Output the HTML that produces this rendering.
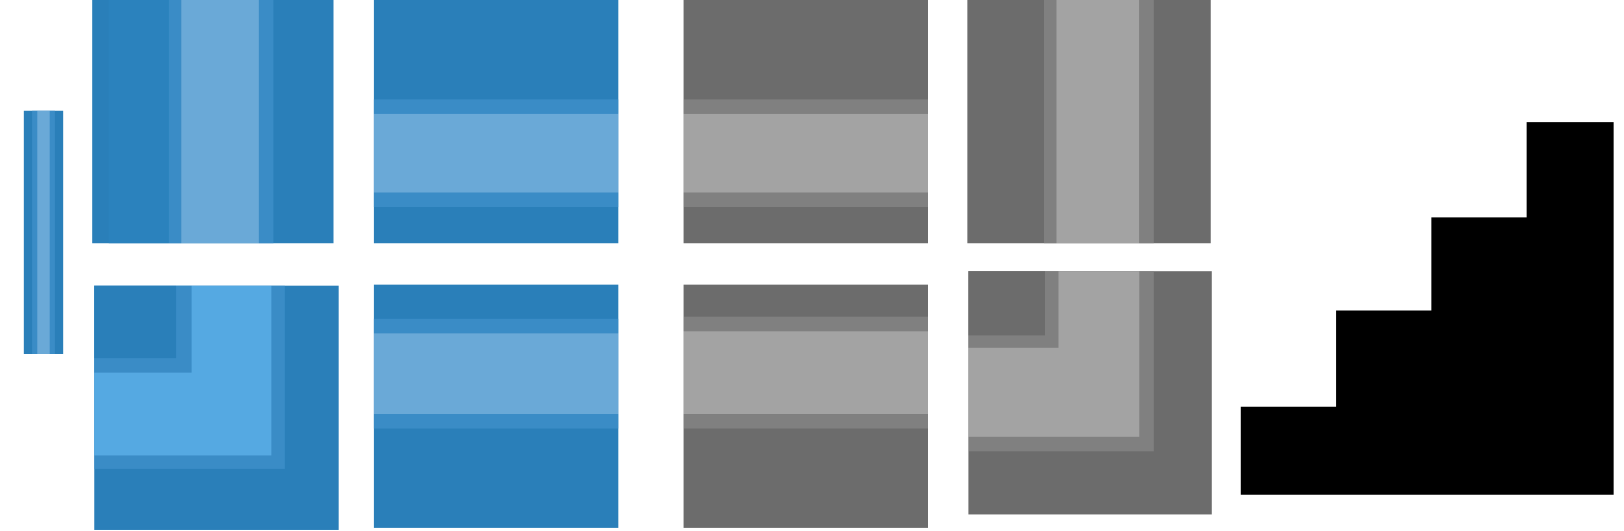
<!DOCTYPE html>
<html><head><meta charset="utf-8"><style>
html,body{margin:0;padding:0;background:#fff;width:1624px;height:531px;overflow:hidden}
</style></head><body>
<svg width="1624" height="531" viewBox="0 0 1568 513" preserveAspectRatio="none" style="position:absolute;left:0;top:0">
<g>
<rect x="23" y="107" width="38" height="235" fill="#2a7fb9"/>
<rect x="31" y="107" width="22" height="235" fill="#3a8cc6"/>
<rect x="36" y="107" width="12" height="235" fill="#6aa9d7"/>
</g>
<g>
<rect x="89" y="0" width="233" height="235" fill="#2a7fb9"/>
<rect x="105" y="0" width="58" height="235" fill="#2b82bd"/>
<rect x="163" y="0" width="12" height="235" fill="#3a8cc6"/>
<rect x="175" y="0" width="75" height="235" fill="#6aa9d7"/>
<rect x="250" y="0" width="14" height="235" fill="#3a8cc6"/>
</g>
<g>
<rect x="361" y="0" width="236" height="235" fill="#2a7fb9"/>
<rect x="361" y="96" width="236" height="14" fill="#3a8cc6"/>
<rect x="361" y="110" width="236" height="76" fill="#6aa9d7"/>
<rect x="361" y="186" width="236" height="14" fill="#3a8cc6"/>
</g>
<g>
<rect x="660" y="0" width="236" height="235" fill="#6c6c6c"/>
<rect x="660" y="96" width="236" height="14" fill="#808080"/>
<rect x="660" y="110" width="236" height="76" fill="#a3a3a3"/>
<rect x="660" y="186" width="236" height="14" fill="#808080"/>
</g>
<g>
<rect x="934" y="0" width="235" height="235" fill="#6c6c6c"/>
<rect x="1008" y="0" width="12" height="235" fill="#808080"/>
<rect x="1020" y="0" width="80" height="235" fill="#a3a3a3"/>
<rect x="1100" y="0" width="14" height="235" fill="#808080"/>
</g>
<g>
<rect x="91" y="276" width="236" height="236" fill="#2a7fb9"/>
<rect x="91" y="276" width="184" height="177" fill="#3a8cc6"/>
<rect x="91" y="276" width="171" height="164" fill="#55a9e2"/>
<rect x="91" y="276" width="94" height="84" fill="#3a8cc6"/>
<rect x="91" y="276" width="79" height="70" fill="#2a7fb9"/>
</g>
<g>
<rect x="361" y="275" width="236" height="235" fill="#2a7fb9"/>
<rect x="361" y="308" width="236" height="14" fill="#3a8cc6"/>
<rect x="361" y="322" width="236" height="78" fill="#6aa9d7"/>
<rect x="361" y="400" width="236" height="14" fill="#3a8cc6"/>
</g>
<g>
<rect x="660" y="275" width="236" height="235" fill="#6c6c6c"/>
<rect x="660" y="306" width="236" height="14" fill="#808080"/>
<rect x="660" y="320" width="236" height="80" fill="#a3a3a3"/>
<rect x="660" y="400" width="236" height="14" fill="#808080"/>
</g>
<g>
<rect x="935" y="262" width="235" height="235" fill="#6c6c6c"/>
<rect x="935" y="262" width="179" height="174" fill="#808080"/>
<rect x="935" y="262" width="165" height="160" fill="#a3a3a3"/>
<rect x="935" y="262" width="87" height="74" fill="#808080"/>
<rect x="935" y="262" width="74" height="62" fill="#6c6c6c"/>
</g>
<path d="M1198 478 L1198 393 L1290 393 L1290 300 L1382 300 L1382 210 L1474 210 L1474 118 L1558 118 L1558 478 Z" fill="#000"/>
</svg>
</body></html>
